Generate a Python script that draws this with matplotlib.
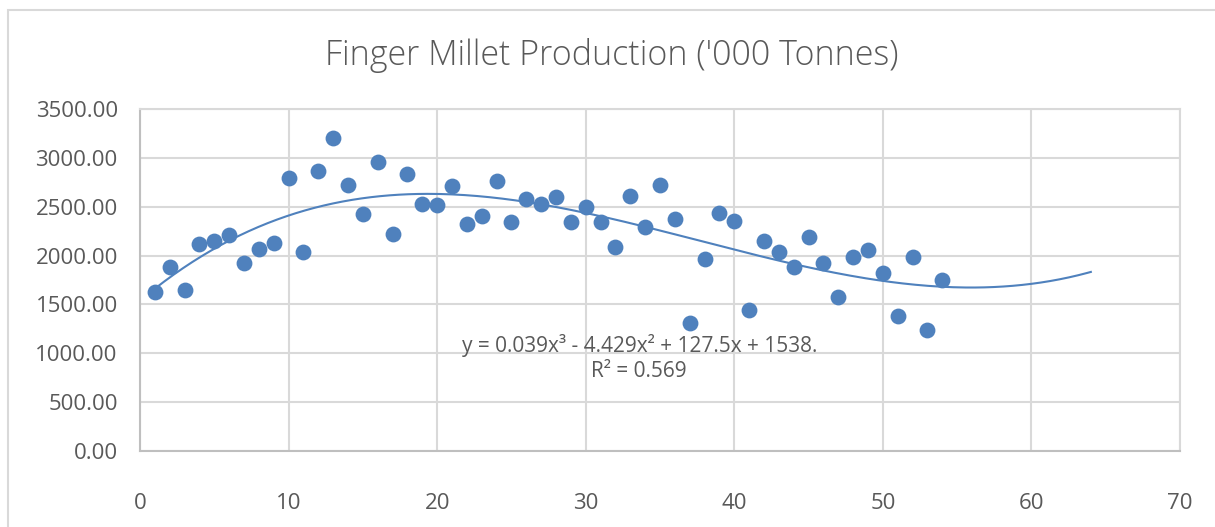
import numpy as np
import matplotlib
matplotlib.use("Agg")
import matplotlib.pyplot as plt
from matplotlib.patches import Rectangle

years = list(range(1, 55))
production = [1630, 1886, 1648, 2118, 2152, 2207, 1924, 2071, 2132, 2797,
              2040, 2869, 3200, 2722, 2422, 2961, 2221, 2831, 2528, 2518,
              2709, 2320, 2408, 2766, 2340, 2579, 2531, 2603, 2340, 2500,
              2340, 2088, 2610, 2296, 2725, 2374, 1313, 1965, 2432, 2354,
              1440, 2152, 2037, 1886, 2193, 1927, 1573, 1985, 2057, 1822,
              1378, 1985, 1238, 1754]
x_ticks = [0, 10, 20, 30, 40, 50, 60, 70]
y_ticks = [0, 500, 1000, 1500, 2000, 2500, 3000, 3500]
title = "Finger Millet Production ('000 Tonnes)"
eq_text = "y = 0.039x³ - 4.429x² + 127.5x + 1538.\nR² = 0.569"
forecast_end = 64

blue = "#4f81bd"
gray_text = "#595959"
grid_c = "#d9d9d9"

plt.rcParams['font.family'] = ['Open Sans', 'DejaVu Sans']

fig = plt.figure(figsize=(12.15, 5.27), dpi=100)
ax = fig.add_axes([140/1215, 1-451/527, (1180-140)/1215, (451-109)/527])

coef = np.polyfit(years, production, 3)
xs = np.linspace(years[0], forecast_end, 300)
ax.plot(xs, np.polyval(coef, xs), color=blue, lw=1.5, zorder=2)
ax.scatter(years, production, s=130, color=blue, zorder=3, linewidths=0)

ax.set_xlim(0, 70)
ax.set_ylim(0, 3500)
ax.set_xticks(x_ticks)
ax.set_yticks(y_ticks)
ax.set_yticklabels([f"{v:.2f}" for v in y_ticks])
ax.grid(True, color=grid_c, lw=1.5, zorder=0)
ax.set_axisbelow(True)
for s in ['top', 'right']:
    ax.spines[s].set_color(grid_c)
    ax.spines[s].set_linewidth(1.5)
for s in ['left', 'bottom']:
    ax.spines[s].set_color("#bfbfbf")
    ax.spines[s].set_linewidth(1.5)
ax.tick_params(length=0, labelsize=16, colors=gray_text, pad=16)
ax.tick_params(axis='x', pad=30)

ax.text(33.6, 950, eq_text, ha='center', va='center', fontsize=15,
        color=gray_text, linespacing=1.25)

fig.text(612/1215, 1-56/527, title, ha='center', va='center',
         fontsize=24.5, color=gray_text, fontweight='light')

fig.patches.append(Rectangle((8/1215, -0.1), 1.2, 1-10/527+0.1,
                             transform=fig.transFigure, fill=False,
                             edgecolor="#d9d9d9", lw=1.5))

fig.savefig("out.png", dpi=100)
